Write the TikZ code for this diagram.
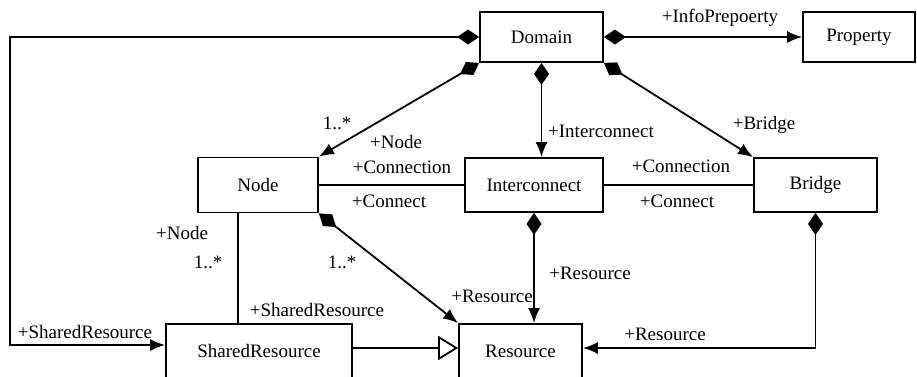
\documentclass[tikz,border=0pt]{standalone}
\usepackage{fontspec}
\setmainfont{Liberation Serif}
\usetikzlibrary{arrows.meta}
\begin{document}
\begin{tikzpicture}[x=1pt,y=-1pt,line width=1.8pt,
  box/.style={draw,rectangle,inner sep=0pt,font=\fontsize{19}{22}\selectfont},
  lbl/.style={inner sep=0pt,font=\fontsize{19}{22}\selectfont},
  comp/.style={{Diamond[length=22pt,width=15pt]}-{Latex[length=15pt,width=12pt]}},
  gen/.style={-{Triangle[open,length=20pt,width=24pt,fill=white]}}]
\useasboundingbox (0,0) rectangle (917,376);
% boxes
\node[box,minimum width=123pt,minimum height=50pt] (dom) at (541.5,37) {Domain};
\node[box,minimum width=112pt,minimum height=50pt] (prop) at (859,37) {Property};
\node[box,minimum width=120pt,minimum height=55pt] (nd) at (258,185) {Node};
\node[box,minimum width=138pt,minimum height=54pt] (ic) at (534,185) {Interconnect};
\node[box,minimum width=123pt,minimum height=54pt] (br) at (815.5,185) {Bridge};
\node[box,minimum width=186pt,minimum height=54pt] (sr) at (259,351) {SharedResource};
\node[box,minimum width=123pt,minimum height=54pt] (res) at (520.5,351) {Resource};
\coordinate (lft) at (10,0);
\coordinate (vx) at (238,0);
% connectors
\draw[comp] (dom.east) -- (prop.west);
\draw[comp] (dom.west) -- (dom.west -| lft) |- ([yshift=6pt]sr.west);
\draw[comp] (dom.south west) -- (nd.north east);
\draw[comp] (dom.south) -- (dom.south |- ic.north);
\draw[comp] (dom.south east) -- (br.north west);
\draw (nd.east) -- (ic.west);
\draw (ic.east) -- (br.west);
\draw (nd.south -| vx) -- (sr.north -| vx);
\draw[comp] (nd.south east) -- (res.north west);
\draw[comp] (ic.south) -- (ic.south |- res.north);
\draw[comp] (br.south) |- ([yshift=3pt]res.east);
\draw[gen] ([yshift=3pt]sr.east) -- ([yshift=3pt]res.west);
% labels
\node[lbl] (l1) at (720,18) {+InfoPrepoerty};
\node[lbl] (l2) at (601,131) {+Interconnect};
\node[lbl] (l3) at (764,125) {+Bridge};
\node[lbl] (l4) at (337,123) {1..*};
\node[lbl] (l5) at (396,142) {+Node};
\node[lbl] (l6) at (402,167) {+Connection};
\node[lbl] (l7) at (389,201) {+Connect};
\node[lbl] (l8) at (681,166) {+Connection};
\node[lbl] (l9) at (677,201) {+Connect};
\node[lbl] (l10) at (182,233) {+Node};
\node[lbl] (l11) at (208,262) {1..*};
\node[lbl] (l12) at (342,262) {1..*};
\node[lbl] (l13) at (317,310) {+SharedResource};
\node[lbl] (l14) at (85,332) {+SharedResource};
\node[lbl] (l15) at (590,273) {+Resource};
\node[lbl] (l16) at (492,296) {+Resource};
\node[lbl] (l17) at (665,334) {+Resource};
\end{tikzpicture}
\end{document}
